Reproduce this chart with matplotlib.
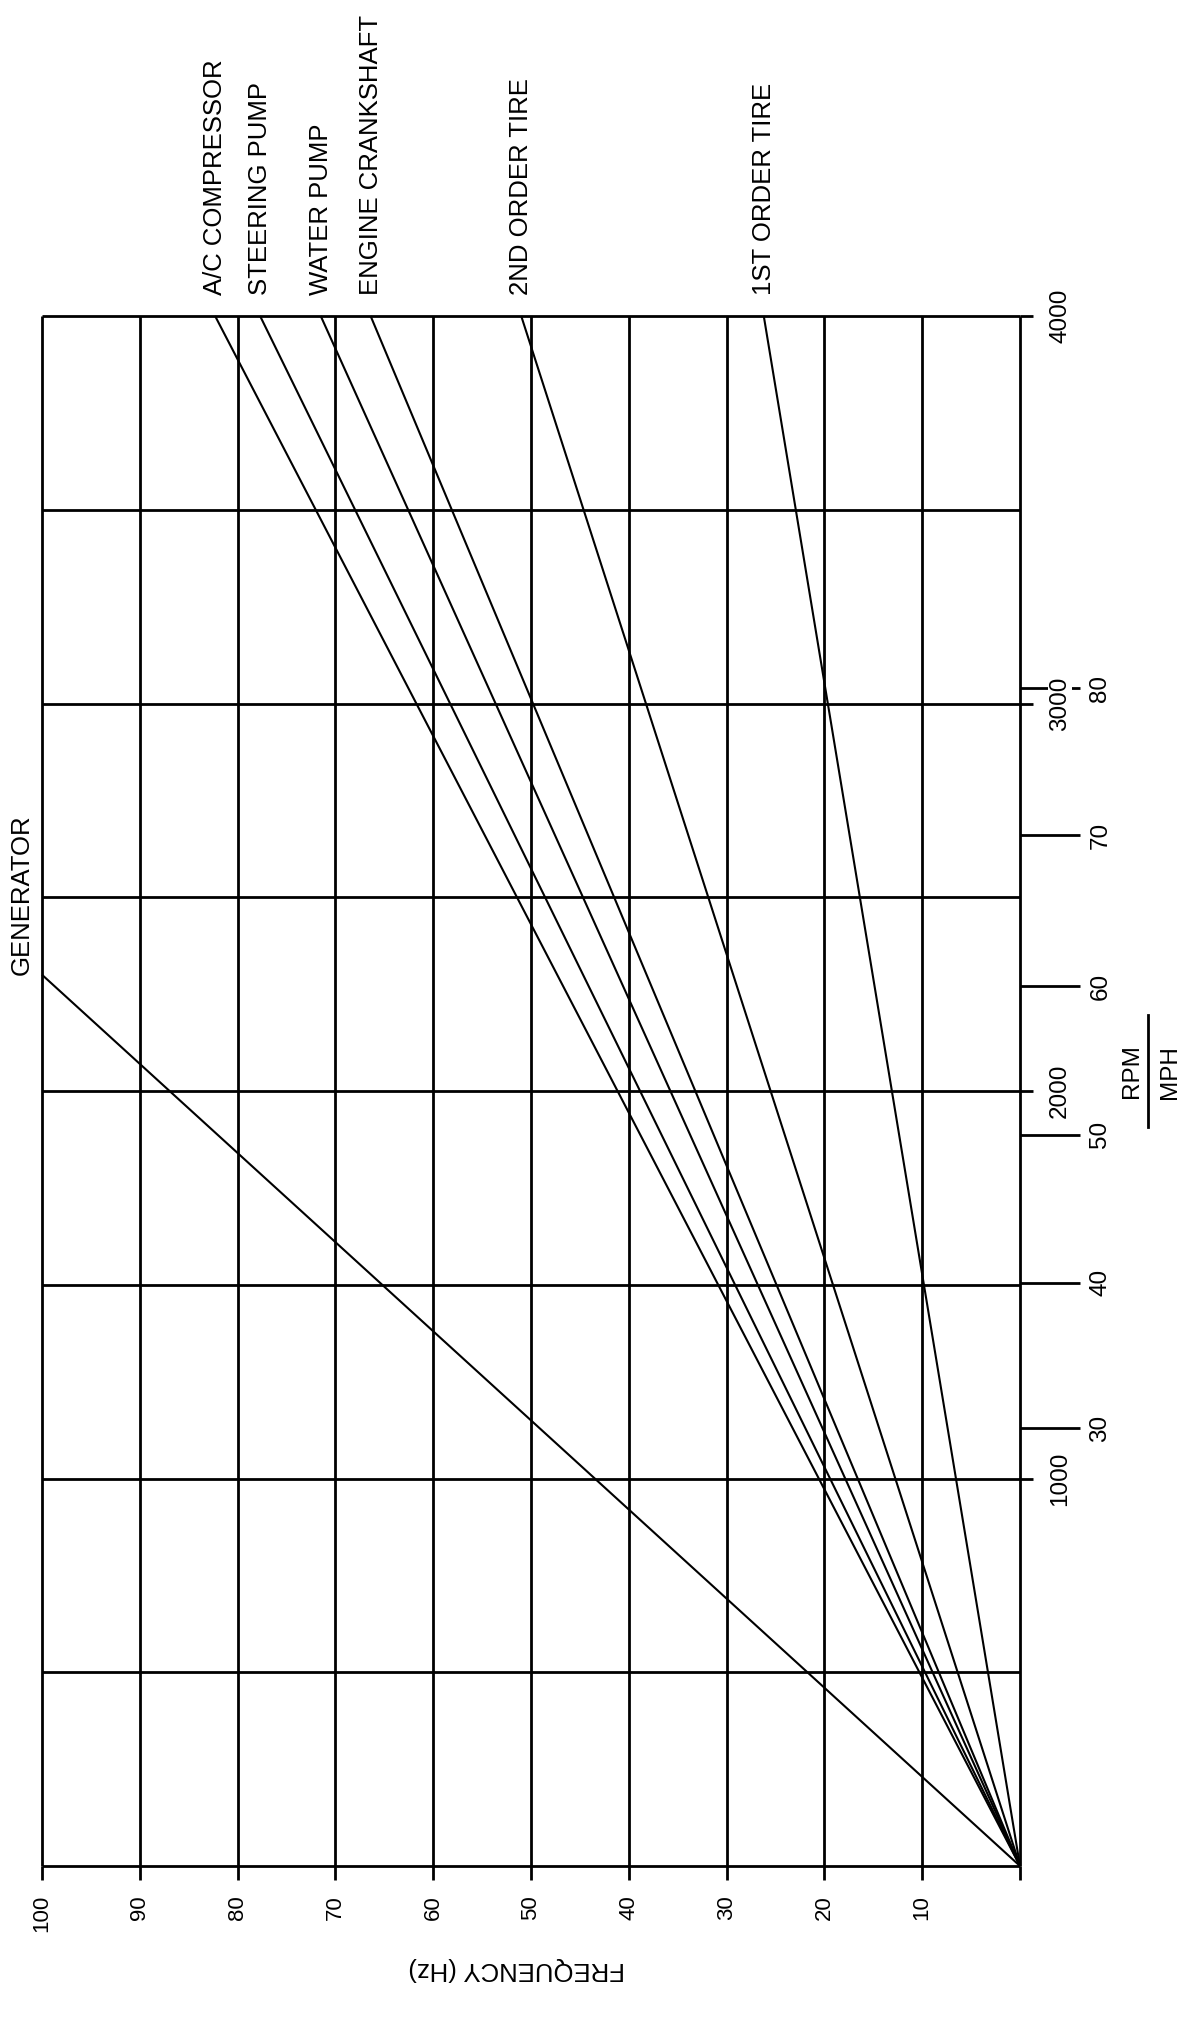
import matplotlib
matplotlib.use('Agg')
import matplotlib.pyplot as plt
from matplotlib.lines import Line2D

# ---------------- data ----------------
series_names = ["A/C COMPRESSOR", "STEERING PUMP", "WATER PUMP",
                "ENGINE CRANKSHAFT", "2ND ORDER TIRE", "1ST ORDER TIRE"]
series_hz_at_4000rpm = [82.3, 77.7, 71.5, 66.4, 51.0, 26.2]

generator_name = "GENERATOR"
generator_rpm_at_100hz = 2300

hz_grid = [0, 10, 20, 30, 40, 50, 60, 70, 80, 90, 100]
hz_tick_labels = ["", "10", "20", "30", "40", "50", "60", "70", "80", "90", "100"]
rpm_grid = [0, 500, 1000, 1500, 2000, 2500, 3000, 3500, 4000]
rpm_ticks = [1000, 2000, 3000, 4000]
rpm_tick_labels = ["1000", "2000", "3000", "4000"]
mph_ticks_rpm = [1130, 1505, 1887, 2270, 2660, 3040]
mph_tick_labels = ["30", "40", "50", "60", "70", "80"]

# ---------------- figure ----------------
plt.rcParams['font.family'] = ['Liberation Sans', 'DejaVu Sans']
W, H = 1200, 2018
fig = plt.figure(figsize=(W / 100, H / 100), dpi=100)
fig.patch.set_facecolor('white')

left_px, right_px, top_px, bottom_px = 42, 1020, 316, 1866
ax = fig.add_axes([left_px / W, 1 - bottom_px / H,
                   (right_px - left_px) / W, (bottom_px - top_px) / H])
ax.set_xlim(100, 0)
ax.set_ylim(0, 4000)

# twin axis for the short RPM ticks (created first, so that the main
# axis can afterwards be moved to the right as well)
ax2 = ax.twinx()
ax2.set_ylim(0, 4000)

for a in (ax, ax2):
    for s in a.spines.values():
        s.set_visible(False)

grid_lw = 2.0
ax.vlines(hz_grid, 0, 4000, color='black', lw=grid_lw, clip_on=False, zorder=2)
ax.hlines(rpm_grid, 0, 100, color='black', lw=grid_lw, clip_on=False, zorder=2)

for name, f in zip(series_names, series_hz_at_4000rpm):
    ax.plot([0, f], [0, 4000], color='black', lw=1.5, clip_on=False,
            solid_capstyle='butt', zorder=3)
    ax.annotate(name, xy=(f, 4000), xytext=(0, 21), textcoords='offset pixels',
                rotation=90, ha='center', va='bottom', fontsize=18.5)

ax.plot([0, 100], [0, generator_rpm_at_100hz], color='black', lw=1.5,
        clip_on=False, solid_capstyle='butt', zorder=3)
ax.annotate(generator_name, xy=(100, generator_rpm_at_100hz), xytext=(-20, 0),
            textcoords='offset pixels', rotation=90, ha='center', va='bottom',
            fontsize=18.5)

# frequency axis (bottom)
ax.set_xticks(hz_grid, labels=hz_tick_labels)
ax.tick_params(axis='x', direction='out', length=10, width=grid_lw, pad=11,
               labelsize=16, labelrotation=90)
ax.set_xlabel("FREQUENCY (Hz)", rotation=180, fontsize=18.5)
ax.xaxis.set_label_coords((517 - left_px) / (right_px - left_px),
                          -(1957 - bottom_px) / (bottom_px - top_px))

# MPH ticks (right, long) on the main axis
ax.yaxis.tick_right()
ax.yaxis.set_label_position('right')
ax.set_yticks(mph_ticks_rpm, labels=mph_tick_labels, rotation=90,
              va='center', ha='left')
ax.tick_params(axis='y', direction='out', length=43, width=grid_lw, pad=7,
               labelsize=17.5, left=False, labelleft=False,
               right=True, labelright=True)

# RPM ticks (right, short) on the twin axis, white background hides the MPH tick
ax2.set_yticks(rpm_ticks, labels=rpm_tick_labels, rotation=90, va='center',
               ha='left', bbox=dict(facecolor='white', edgecolor='none', pad=0.5))
ax2.tick_params(axis='y', direction='out', length=9, width=grid_lw, pad=12,
                labelsize=17.5, left=False, labelleft=False,
                right=True, labelright=True)

# RPM / MPH label
fig.text(1132 / W, 1 - 1071 / H, "RPM", rotation=90, ha='center', va='center',
         fontsize=17.5)
fig.text(1170 / W, 1 - 1072 / H, "MPH", rotation=90, ha='center', va='center',
         fontsize=17.5)
fig.add_artist(Line2D([1148 / W, 1148 / W], [1 - 1015 / H, 1 - 1127 / H],
                      color='black', lw=2.0))

fig.savefig('out.png', dpi=100, facecolor='white')
